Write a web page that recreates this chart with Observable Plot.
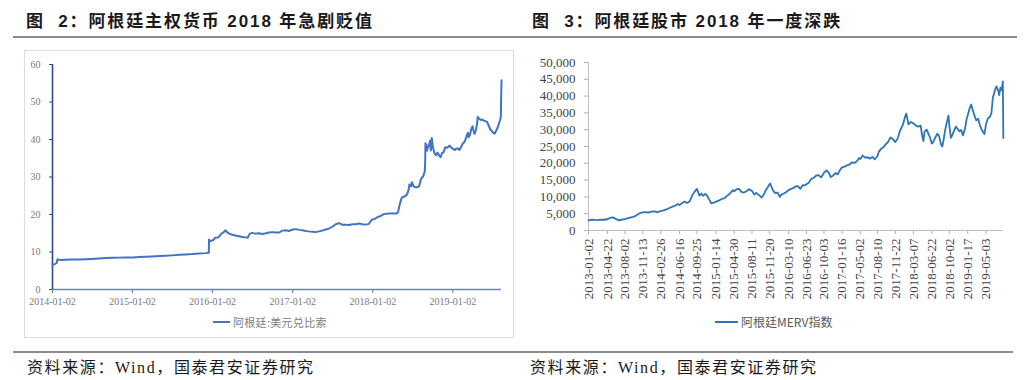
<!DOCTYPE html>
<html><head><meta charset="utf-8">
<script src="https://cdn.jsdelivr.net/npm/d3@7"></script>
<script src="https://cdn.jsdelivr.net/npm/@observablehq/plot@0.6"></script>
<style>
body{margin:0;background:#fff;width:1025px;height:380px;overflow:hidden;position:relative;font-family:"Liberation Sans","Noto Sans CJK SC",sans-serif;}
.abs{position:absolute;}
.title{font-weight:bold;font-size:17px;letter-spacing:1.9px;white-space:pre;color:#1a1a1a;line-height:20px;}
.rule{background:#8c8c8c;height:2px;}
.src{font-family:"Liberation Serif","Noto Sans CJK SC",serif;font-size:16px;letter-spacing:1.6px;color:#1a1a1a;white-space:pre;line-height:18px;}
.box{border:1px solid #dcdcdc;}
.leg{display:flex;align-items:center;white-space:pre;font-family:"Noto Sans CJK SC",sans-serif;}
.leg span.ln{display:inline-block;height:2px;margin-right:3px;}
</style>
</head><body>
<div class="abs title" style="left:26px;top:12px;">图  2：阿根廷主权货币 2018 年急剧贬值</div>
<div class="abs title" style="left:532px;top:12px;">图  3：阿根廷股市 2018 年一度深跌</div>
<div class="abs rule" style="left:13px;top:36px;width:1004px;"></div>
<div class="abs box" style="left:24px;top:50px;width:488px;height:286px;"></div>
<div id="left" class="abs" style="left:24px;top:50px;"></div>
<div id="right" class="abs" style="left:520px;top:50px;"></div>
<div class="abs leg" style="left:213px;top:314px;font-size:11px;letter-spacing:0.3px;color:#808080;"><span class="ln" style="width:17px;background:#4472C4;"></span>阿根廷:美元兑比索</div>
<div class="abs leg" style="left:715px;top:313px;font-size:12px;color:#595959;"><span class="ln" style="width:23px;background:#2E75B6;"></span>阿根廷MERV指数</div>
<div class="abs rule" style="left:13px;top:351px;width:1000px;"></div>
<div class="abs src" style="left:27px;top:359px;">资料来源：Wind，国泰君安证券研究</div>
<div class="abs src" style="left:530px;top:359px;">资料来源：Wind，国泰君安证券研究</div>
<script>
// ---------- Figure 2: ARS per USD ----------
const fxDates = ["2014-01-02","2014-01-15","2014-01-22","2014-01-24","2014-02-10","2014-03-03","2014-04-01","2014-05-02","2014-06-02","2014-07-01","2014-08-01","2014-09-01","2014-10-01","2014-11-03","2014-12-01","2015-01-02","2015-02-02","2015-03-02","2015-04-01","2015-05-04","2015-06-01","2015-07-01","2015-08-03","2015-09-01","2015-10-01","2015-11-02","2015-12-01","2015-12-16","2015-12-17","2015-12-21","2015-12-28","2016-01-05","2016-01-15","2016-01-29","2016-02-10","2016-02-24","2016-03-01","2016-03-08","2016-03-18","2016-04-01","2016-04-15","2016-05-02","2016-05-16","2016-06-01","2016-06-10","2016-06-20","2016-07-01","2016-07-15","2016-08-01","2016-08-15","2016-09-01","2016-09-15","2016-10-03","2016-10-17","2016-11-01","2016-11-15","2016-12-01","2016-12-15","2017-01-02","2017-01-16","2017-02-01","2017-02-15","2017-03-01","2017-03-15","2017-04-03","2017-04-17","2017-05-02","2017-05-16","2017-06-01","2017-06-15","2017-07-03","2017-07-17","2017-08-01","2017-08-15","2017-09-01","2017-09-15","2017-10-02","2017-10-16","2017-11-01","2017-11-15","2017-12-01","2017-12-15","2017-12-28","2018-01-10","2018-01-24","2018-02-07","2018-02-21","2018-03-07","2018-03-21","2018-04-05","2018-04-20","2018-04-27","2018-05-04","2018-05-14","2018-05-25","2018-06-01","2018-06-08","2018-06-14","2018-06-18","2018-06-25","2018-06-29","2018-07-06","2018-07-13","2018-07-24","2018-08-01","2018-08-10","2018-08-20","2018-08-27","2018-08-29","2018-08-30","2018-08-31","2018-09-04","2018-09-06","2018-09-10","2018-09-14","2018-09-20","2018-09-24","2018-09-28","2018-10-03","2018-10-10","2018-10-17","2018-10-24","2018-10-31","2018-11-07","2018-11-14","2018-11-21","2018-11-28","2018-12-05","2018-12-12","2018-12-19","2018-12-28","2019-01-04","2019-01-11","2019-01-18","2019-01-25","2019-02-01","2019-02-08","2019-02-15","2019-02-22","2019-03-01","2019-03-06","2019-03-12","2019-03-15","2019-03-21","2019-03-27","2019-04-02","2019-04-05","2019-04-11","2019-04-17","2019-04-24","2019-04-25","2019-05-02","2019-05-10","2019-05-17","2019-05-24","2019-05-31","2019-06-07","2019-06-14","2019-06-21","2019-06-28","2019-07-05","2019-07-12","2019-07-19","2019-07-26","2019-08-02","2019-08-08","2019-08-09","2019-08-12"];
const fxValues = [6.52,6.85,7.15,8.0,7.85,7.95,8.0,8.0,8.05,8.13,8.25,8.4,8.45,8.5,8.55,8.55,8.65,8.75,8.82,8.92,9.0,9.1,9.25,9.35,9.45,9.6,9.7,9.8,13.3,12.9,13.0,13.2,13.8,13.9,14.8,15.4,15.8,15.3,14.9,14.6,14.4,14.2,14.0,13.9,13.8,14.9,15.1,14.9,15.0,14.8,15.0,15.2,15.3,15.2,15.2,15.7,15.8,15.6,16.0,16.1,15.9,15.8,15.6,15.5,15.4,15.3,15.5,15.7,16.0,16.2,16.8,17.4,17.7,17.3,17.3,17.2,17.4,17.4,17.6,17.4,17.3,17.5,18.6,18.8,19.3,19.6,20.1,20.2,20.3,20.3,20.3,20.6,22.5,24.5,24.8,25.0,25.5,26.5,28.0,27.5,28.6,27.6,27.3,27.3,27.5,29.5,30.2,31.5,34.2,39.0,37.7,38.6,37.0,37.8,38.3,39.7,37.1,40.4,38.0,36.4,35.8,36.5,35.8,35.3,36.4,36.6,37.9,37.8,38.0,38.4,37.7,37.5,37.2,37.6,37.6,37.2,37.9,38.8,39.2,40.0,41.0,41.8,40.6,41.2,42.8,43.5,42.6,41.5,42.4,44.8,46.0,45.6,45.2,45.3,45.0,44.9,44.7,43.8,42.8,42.3,41.8,41.6,42.4,43.3,44.6,45.7,46.2,55.8];
const fxTicks = ["2014-01-02","2015-01-02","2016-01-02","2017-01-02","2018-01-02","2019-01-02"];
const fxYTicks = [0,10,20,30,40,50,60];
const fxLabel = "阿根廷:美元兑比索";

// ---------- Figure 3: MERVAL index ----------
const mervDates = ["2013-01-02","2013-01-21","2013-02-08","2013-02-26","2013-03-15","2013-04-03","2013-04-22","2013-05-08","2013-05-24","2013-06-10","2013-06-26","2013-07-12","2013-08-02","2013-08-20","2013-09-06","2013-09-24","2013-10-10","2013-10-28","2013-11-13","2013-11-29","2013-12-16","2014-01-03","2014-01-22","2014-02-07","2014-02-26","2014-03-14","2014-04-01","2014-04-17","2014-05-06","2014-05-22","2014-06-05","2014-06-16","2014-06-27","2014-07-15","2014-07-30","2014-08-14","2014-08-29","2014-09-10","2014-09-25","2014-10-03","2014-10-09","2014-10-20","2014-10-30","2014-11-12","2014-11-25","2014-12-05","2014-12-17","2015-01-05","2015-01-14","2015-01-30","2015-02-13","2015-03-03","2015-03-19","2015-04-07","2015-04-22","2015-04-30","2015-05-14","2015-05-28","2015-06-10","2015-06-25","2015-07-10","2015-07-24","2015-08-11","2015-08-24","2015-09-04","2015-09-22","2015-10-06","2015-10-20","2015-10-27","2015-11-06","2015-11-20","2015-11-25","2015-12-03","2015-12-11","2015-12-22","2016-01-06","2016-01-20","2016-01-29","2016-02-12","2016-02-25","2016-03-10","2016-03-23","2016-04-06","2016-04-20","2016-05-04","2016-05-18","2016-06-01","2016-06-14","2016-06-23","2016-07-06","2016-07-20","2016-08-04","2016-08-18","2016-09-01","2016-09-16","2016-10-03","2016-10-18","2016-11-01","2016-11-11","2016-11-24","2016-12-09","2016-12-22","2017-01-05","2017-01-16","2017-01-31","2017-02-14","2017-03-01","2017-03-15","2017-03-29","2017-04-12","2017-04-26","2017-05-02","2017-05-16","2017-05-30","2017-06-13","2017-06-27","2017-07-11","2017-07-25","2017-08-10","2017-08-17","2017-08-31","2017-09-14","2017-09-28","2017-10-11","2017-10-24","2017-11-07","2017-11-22","2017-12-06","2017-12-20","2018-01-05","2018-01-17","2018-01-25","2018-02-06","2018-02-20","2018-03-07","2018-03-20","2018-04-04","2018-04-18","2018-04-27","2018-05-04","2018-05-11","2018-05-23","2018-06-01","2018-06-12","2018-06-22","2018-06-29","2018-07-10","2018-07-24","2018-08-03","2018-08-14","2018-08-22","2018-08-30","2018-09-07","2018-09-18","2018-09-27","2018-10-02","2018-10-11","2018-10-19","2018-10-30","2018-11-09","2018-11-20","2018-11-30","2018-12-10","2018-12-20","2019-01-02","2019-01-10","2019-01-17","2019-01-29","2019-02-06","2019-02-14","2019-02-25","2019-03-08","2019-03-19","2019-03-28","2019-04-05","2019-04-15","2019-04-24","2019-05-03","2019-05-14","2019-05-24","2019-06-04","2019-06-12","2019-06-24","2019-07-03","2019-07-12","2019-07-19","2019-07-26","2019-08-02","2019-08-08","2019-08-09","2019-08-12"];
const mervValues = [3000,3250,3150,3100,3250,3200,3350,3750,3900,3450,3050,3200,3400,3650,3900,4100,4600,5200,5400,5450,5300,5600,5700,5500,5800,6000,6300,6700,7100,7400,7900,7600,8000,8600,8200,8700,10500,11500,12400,11200,10400,11000,10300,10900,10200,9200,8100,8400,8600,8900,9300,9600,10300,11100,12000,11700,12300,12400,11500,11300,11700,12300,11800,10700,11200,10500,9800,10800,11700,12500,13700,14000,12900,12000,11200,11300,10000,10700,11000,11400,12000,12300,12600,13100,13200,12400,13500,13400,13800,14200,15300,15700,16300,16500,15800,17200,17900,17100,15900,16300,17100,16700,18100,18800,19000,19400,19700,20300,20100,20600,21600,21300,22300,21700,21800,21400,21900,21200,22100,23400,24300,24800,25700,26400,27700,27200,26300,27500,29800,31500,33800,34800,31600,32300,31900,31300,30900,31200,28200,26600,29400,30000,28900,27600,25900,26200,27400,28800,28100,25700,25000,27100,29700,32400,34200,31200,27600,28400,29700,30900,30200,29500,29900,28300,30500,33100,34300,36500,37500,36100,34200,32800,33300,31400,30400,29400,28700,31500,33400,33700,35000,39500,41700,42900,41800,40300,42500,41800,43600,44400,27500];
const mervTicks = ["2013-01-02","2013-04-22","2013-08-02","2013-11-13","2014-02-26","2014-06-16","2014-09-25","2015-01-14","2015-04-30","2015-08-11","2015-11-20","2016-03-10","2016-06-23","2016-10-03","2017-01-16","2017-05-02","2017-08-10","2017-11-22","2018-03-07","2018-06-22","2018-10-02","2019-01-17","2019-05-03"];
const mervYTicks = [0,5000,10000,15000,20000,25000,30000,35000,40000,45000,50000];

const parse = d3.utcParse("%Y-%m-%d");
const fmt = d3.utcFormat("%Y-%m-%d");
const fxData = fxDates.map((d,i)=>({date:parse(d), value:fxValues[i]}));
const mervData = mervDates.map((d,i)=>({date:parse(d), value:mervValues[i]}));

const leftStart = parse(fxDates[0]);
const leftChart = Plot.plot({
  width: 489, height: 265,
  marginLeft: 28, marginRight: 12, marginTop: 14, marginBottom: 26,
  style: {fontFamily: "Liberation Serif, serif", fontSize: "10px", color: "#7a7a7a", background: "transparent", overflow: "visible"},
  x: {type: "utc", domain: [leftStart, parse(fxDates[fxDates.length-1])]},
  y: {domain: [0, 60]},
  marks: [
    Plot.axisY({ticks: fxYTicks, tickSize: 3, tickPadding: 9, stroke: "#2e4a8c", label: null}),
    Plot.axisX({ticks: fxTicks.map(parse), tickFormat: fmt, tickSize: 4, tickPadding: 4, stroke: "#5a6fa8", label: null}),
    Plot.ruleY([0], {stroke: "#6f82b6", strokeWidth: 1.5}),
    Plot.ruleX([leftStart], {y1: 0, y2: 60, stroke: "#2e4a8c", strokeWidth: 1.6}),
    Plot.lineY(fxData, {x: "date", y: "value", stroke: "#4472C4", strokeWidth: 2})
  ]
});
document.getElementById("left").appendChild(leftChart);

const rightStart = parse(mervDates[0]);
const rightChart = Plot.plot({
  width: 505, height: 255,
  marginLeft: 68, marginRight: 22, marginTop: 12, marginBottom: 75,
  style: {fontFamily: "Liberation Serif, serif", fontSize: "13px", color: "#444", background: "transparent", overflow: "visible"},
  x: {type: "utc", domain: [rightStart, parse("2019-08-13")]},
  y: {domain: [0, 50000]},
  marks: [
    Plot.axisY({ticks: mervYTicks, tickFormat: d3.format(","), tickSize: 4, tickPadding: 9, stroke: "#b0b0b0", label: null}),
    Plot.axisX({ticks: mervTicks.map(parse), tickFormat: fmt, tickRotate: -90, tickSize: 4, tickPadding: 4, stroke: "#b0b0b0", label: null}),
    Plot.ruleY([0], {stroke: "#c0c0c0", strokeWidth: 1}),
    Plot.ruleX([rightStart], {y1: 0, y2: 50000, stroke: "#c0c0c0", strokeWidth: 1}),
    Plot.lineY(mervData, {x: "date", y: "value", stroke: "#2E75B6", strokeWidth: 1.8})
  ]
});
document.getElementById("right").appendChild(rightChart);
</script>
</body></html>
